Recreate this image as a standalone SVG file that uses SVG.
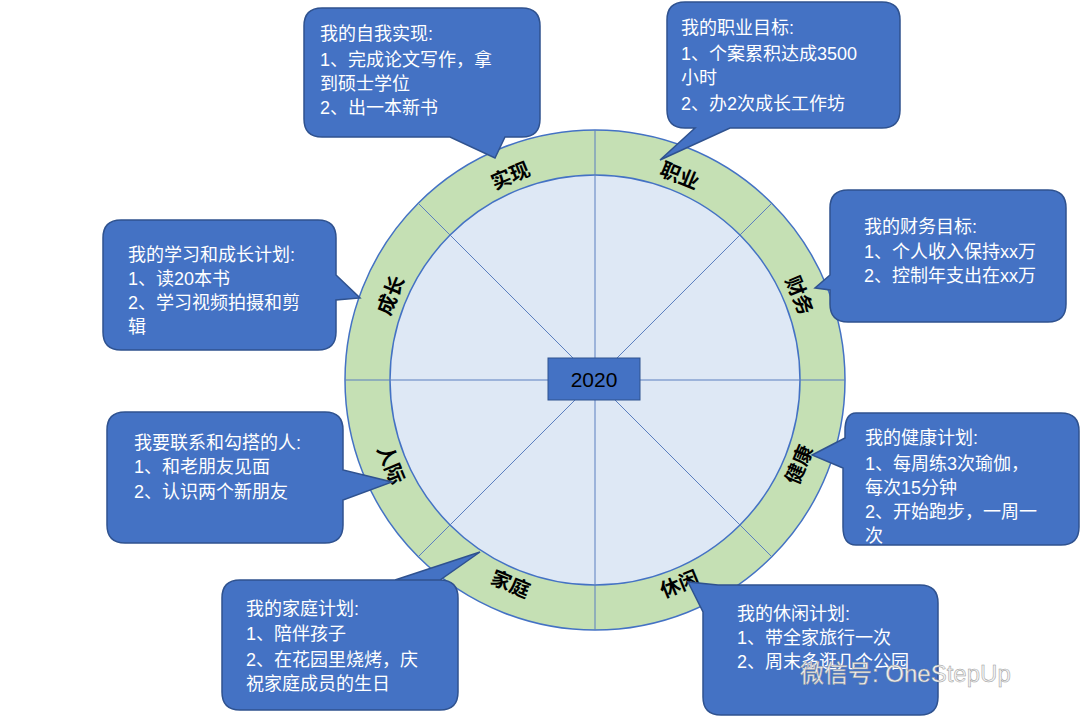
<svg xmlns="http://www.w3.org/2000/svg" width="1080" height="721" viewBox="0 0 1080 721">
<style>
.co{fill:#4472c4;stroke:#2f528f;stroke-width:1.5}
.ct{fill:#fff;font-family:"Liberation Sans","Noto Sans CJK SC",sans-serif;font-size:18px}
.lb{fill:#000;font-family:"Noto Sans CJK SC",sans-serif;font-size:20px;font-weight:bold;text-anchor:middle}
.sp{stroke:#5b7fbf;stroke-width:1}
</style>
<rect width="1080" height="721" fill="#fff"/>
<g id="wheel">
<circle cx="595" cy="380" r="250" fill="#c5e0b4" stroke="#4472c4" stroke-width="1.5"/>
<circle cx="595" cy="380" r="205" fill="#dee8f5" stroke="#4472c4" stroke-width="1.5"/>
</g>
<g id="connectors">
<g class="sp">
<line x1="595" y1="130" x2="595" y2="630"/>
<line x1="345" y1="380" x2="845" y2="380"/>
<line x1="418.2" y1="203.2" x2="771.8" y2="556.8"/>
<line x1="771.8" y1="203.2" x2="418.2" y2="556.8"/>
</g>
</g>
<g id="labels">
<text class="lb" transform="rotate(-22.5 595 380)" x="595" y="166">实现</text>
<text class="lb" transform="rotate(22.5 595 380)" x="595" y="166">职业</text>
<text class="lb" transform="rotate(67.5 595 380)" x="595" y="166">财务</text>
<text class="lb" transform="rotate(-67.5 595 380)" x="595" y="608">健康</text>
<text class="lb" transform="rotate(-22.5 595 380)" x="595" y="608">休闲</text>
<text class="lb" transform="rotate(22.5 595 380)" x="595" y="608">家庭</text>
<text class="lb" transform="rotate(67.5 595 380)" x="595" y="608">人际</text>
<text class="lb" transform="rotate(-67.5 595 380)" x="595" y="166">成长</text>
</g>
<g id="center">
<rect x="548" y="358" width="92" height="42" fill="#4472c4" stroke="#2f528f"/>
<text x="594" y="387" text-anchor="middle" font-family="Liberation Sans,sans-serif" font-size="21" fill="#000">2020</text>
</g>
<g id="n1">
<path class="co" d="M322,8 H522 Q540,8 540,26 V119 Q540,137 522,137 H505 L495,158 L450,137 H322 Q304,137 304,119 V26 Q304,8 322,8 Z"/>
<text class="ct" x="320" y="40">我的自我实现:</text>
<text class="ct" x="320" y="66">1、完成论文写作，拿</text>
<text class="ct" x="320" y="90">到硕士学位</text>
<text class="ct" x="320" y="114">2、出一本新书</text>
</g>
<g id="n2">
<path class="co" d="M685,2 H882 Q900,2 900,20 V110 Q900,128 882,128 H730 L660,160 L695,128 H685 Q667,128 667,110 V20 Q667,2 685,2 Z"/>
<text class="ct" x="681" y="34">我的职业目标:</text>
<text class="ct" x="681" y="60">1、个案累积达成3500</text>
<text class="ct" x="681" y="84">小时</text>
<text class="ct" x="681" y="110">2、办2次成长工作坊</text>
</g>
<g id="n3">
<path class="co" d="M848,190 H1048 Q1066,190 1066,208 V304 Q1066,322 1048,322 H848 Q830,322 830,304 V290 L815,288 L830,275 V208 Q830,190 848,190 Z"/>
<text class="ct" x="864" y="233">我的财务目标:</text>
<text class="ct" x="864" y="258">1、个人收入保持xx万</text>
<text class="ct" x="864" y="282">2、控制年支出在xx万</text>
</g>
<g id="n4">
<path class="co" d="M856,413 H1061 Q1079,413 1079,431 V527 Q1079,545 1061,545 H856 Q843,545 843,527 V468 L812,455 L845,438 V431 Q845,413 856,413 Z"/>
<text class="ct" x="865" y="444">我的健康计划:</text>
<text class="ct" x="865" y="470">1、每周练3次瑜伽，</text>
<text class="ct" x="865" y="494">每次15分钟</text>
<text class="ct" x="865" y="518">2、开始跑步，一周一</text>
<text class="ct" x="865" y="542">次</text>
</g>
<g id="n5">
<path class="co" d="M721,585 H920 Q938,585 938,603 V697 Q938,715 920,715 H721 Q703,715 703,697 V612 L688,582 L718,585 Z"/>
<text class="ct" x="737" y="620">我的休闲计划:</text>
<text class="ct" x="737" y="644">1、带全家旅行一次</text>
<text class="ct" x="737" y="668">2、周末多逛几个公园</text>
</g>
<g id="n6">
<path class="co" d="M240,580 H440 Q458,580 458,598 V692 Q458,710 440,710 H240 Q222,710 222,692 V598 Q222,580 240,580 H395 L480,552 L440,580 Z"/>
<text class="ct" x="246" y="615">我的家庭计划:</text>
<text class="ct" x="246" y="640">1、陪伴孩子</text>
<text class="ct" x="246" y="666">2、在花园里烧烤，庆</text>
<text class="ct" x="246" y="690">祝家庭成员的生日</text>
</g>
<g id="n7">
<path class="co" d="M125,412 H325 Q343,412 343,430 V470 L392,482 L343,500 V525 Q343,543 325,543 H125 Q107,543 107,525 V430 Q107,412 125,412 Z"/>
<text class="ct" x="134" y="449">我要联系和勾搭的人:</text>
<text class="ct" x="134" y="473">1、和老朋友见面</text>
<text class="ct" x="134" y="498">2、认识两个新朋友</text>
</g>
<g id="n8">
<path class="co" d="M121,220 H318 Q336,220 336,238 V275 L360,298 L336,300 V332 Q336,350 318,350 H121 Q103,350 103,332 V238 Q103,220 121,220 Z"/>
<text class="ct" x="128" y="261">我的学习和成长计划:</text>
<text class="ct" x="128" y="285">1、读20本书</text>
<text class="ct" x="128" y="309">2、学习视频拍摄和剪</text>
<text class="ct" x="128" y="333">辑</text>
</g>
<text x="800" y="682" font-family="Liberation Sans,Noto Sans CJK SC,sans-serif" font-size="24" fill="#f2f2f2" stroke="#999" stroke-width="0.5">微信号: OneStepUp</text>
</svg>
